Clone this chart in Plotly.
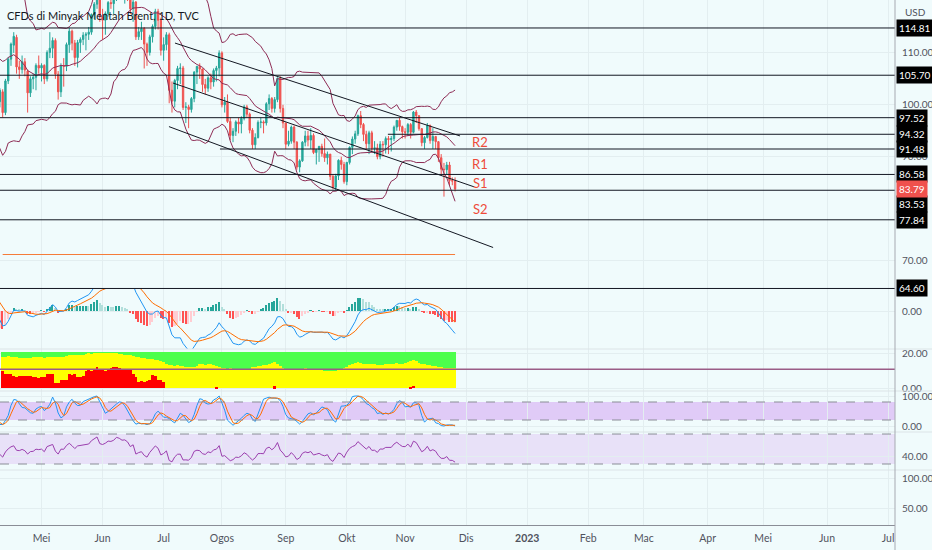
import pandas as pd
import plotly.graph_objects as go

# ---------------------------------------------------------------------------
# Data: TVC Brent CFD, daily bars (the first weeks are only indicator warm-up)
# ---------------------------------------------------------------------------
dates = pd.bdate_range("2022-02-14", "2022-11-25").drop(pd.Timestamp("2022-04-15"))

opens = [
    94.4, 96.5, 93.3, 94.8, 93.0,
    93.5, 95.4, 96.8, 96.8, 99.1,
    97.9, 101.0, 105.0, 112.9, 110.5,
    118.1, 123.2, 128.0, 111.1, 109.3,
    112.0, 106.5, 100.0, 98.5, 106.5,
    108.0, 115.5, 115.8, 121.0, 119.0,
    120.0, 112.0, 110.0, 113.0, 104.7,
    104.4, 107.5, 106.6, 101.0, 100.6,
    102.5, 98.5, 104.6, 108.8,
    111.5, 113.0, 107.3, 106.8, 108.3,
    106.5, 102.3, 105.0, 105.3, 107.6,
    107.1, 107.6, 105.0, 110.1, 110.9,
    112.4, 105.9, 102.5, 107.5, 107.4,
    111.6, 114.2, 111.9, 109.1, 112.0,
    112.6, 113.4, 113.6, 114.0, 117.4,
    119.4, 121.5, 117.0, 116.3, 117.6,
    119.7, 119.5, 120.6, 123.6, 123.1,
    122.0, 122.3, 121.2, 118.5, 119.8,
    113.1, 114.1, 114.7, 111.7, 110.1,
    113.1, 115.1, 118.0, 116.3, 110.5,
    111.6, 113.5, 102.8, 100.7, 104.7,
    107.0, 107.1, 99.5, 99.6, 99.1,
    101.2, 106.3, 107.4, 106.9, 103.9,
    103.2, 105.2, 104.4, 106.6, 107.1,
    110.0, 100.0, 100.5, 96.8, 94.1,
    94.9, 96.7, 96.3, 97.4, 99.6,
    98.2, 95.1, 92.3, 93.7, 96.6,
    96.7, 96.5, 100.2, 101.2, 99.3,
    101.0, 105.1, 99.3, 96.5, 92.4,
    93.0, 95.7, 92.8, 88.0, 89.2,
    92.8, 94.0, 93.2, 94.1, 90.8,
    91.4, 92.0, 90.6, 89.8, 90.5,
    86.2, 84.1, 86.3, 89.3, 88.5,
    85.2, 88.9, 91.8, 93.4, 94.4,
    97.9, 96.2, 94.3, 92.5, 94.6,
    91.6, 91.7, 90.0, 92.4, 92.3,
    93.5, 93.3, 93.5, 95.7, 97.0,
    95.8, 94.8, 94.7, 96.2, 94.7,
    98.6, 97.9, 95.4, 92.7, 93.7,
    96.0, 93.1, 93.9, 92.9, 89.8,
    87.6, 87.5, 88.4, 85.4, 85.3,
]
highs = [
    96.8, 96.6, 95.0, 95.2, 94.0,
    96.0, 99.5, 97.5, 105.8, 100.0,
    101.5, 107.0, 113.0, 119.8, 119.0,
    130.0, 131.0, 129.5, 117.0, 113.5,
    112.9, 107.5, 102.0, 107.8, 108.6,
    115.9, 118.0, 122.5, 122.0, 121.5,
    120.5, 113.5, 114.0, 113.5, 106.5,
    108.6, 108.8, 107.0, 102.7, 103.2,
    103.0, 105.0, 109.2, 112.0,
    114.0, 113.5, 108.5, 109.5, 109.0,
    106.8, 105.5, 106.0, 108.0, 109.5,
    108.0, 107.8, 110.5, 114.0, 113.0,
    112.8, 106.5, 108.0, 109.0, 112.0,
    114.9, 114.5, 112.5, 112.5, 113.0,
    114.0, 114.0, 115.0, 117.6, 119.8,
    122.0, 123.5, 118.5, 118.0, 120.0,
    121.9, 121.0, 124.0, 124.0, 124.0,
    123.0, 124.5, 122.0, 120.5, 120.0,
    115.0, 116.0, 115.0, 112.0, 113.5,
    115.5, 118.5, 118.5, 116.8, 113.0,
    114.0, 113.9, 104.5, 105.0, 107.5,
    108.0, 107.5, 100.5, 100.0, 101.5,
    106.5, 107.5, 108.0, 107.0, 105.0,
    105.5, 106.0, 107.0, 107.5, 110.5,
    110.3, 101.5, 102.0, 97.5, 95.5,
    97.0, 97.5, 97.8, 100.0, 100.0,
    98.5, 95.5, 94.5, 97.0, 97.5,
    97.0, 100.5, 102.0, 101.5, 101.5,
    105.3, 105.5, 100.0, 96.5, 95.0,
    96.0, 96.0, 93.0, 89.5, 93.0,
    95.0, 95.0, 95.5, 94.5, 91.5,
    92.0, 92.5, 93.5, 91.0, 90.5,
    86.5, 86.7, 89.5, 90.0, 89.0,
    89.0, 92.0, 93.9, 95.0, 98.1,
    98.8, 96.5, 95.0, 95.0, 95.0,
    93.0, 92.5, 93.0, 93.0, 93.9,
    94.0, 94.0, 96.0, 97.0, 97.5,
    96.0, 95.5, 96.5, 96.5, 98.8,
    99.0, 98.0, 95.5, 94.0, 96.5,
    96.2, 95.5, 94.0, 93.0, 90.5,
    88.8, 89.0, 89.0, 86.0, 86.0,
]
lows = [
    93.8, 92.1, 92.5, 92.0, 91.5,
    93.0, 94.5, 95.5, 96.5, 96.0,
    97.0, 100.5, 104.5, 109.5, 110.0,
    117.5, 122.0, 108.5, 106.0, 107.5,
    105.0, 97.4, 96.9, 97.5, 104.0,
    106.9, 113.0, 115.0, 116.0, 116.5,
    110.5, 104.6, 109.0, 104.0, 102.5,
    103.0, 104.5, 100.2, 98.6, 99.5,
    97.6, 98.0, 104.0, 107.5,
    110.0, 106.0, 105.0, 106.0, 105.5,
    98.5, 101.5, 103.0, 102.8, 106.0,
    104.5, 104.0, 104.5, 109.0, 109.0,
    105.0, 101.0, 101.5, 103.5, 106.5,
    110.0, 110.5, 107.5, 107.2, 110.0,
    111.5, 110.5, 112.5, 113.5, 116.5,
    118.5, 116.0, 112.5, 113.5, 117.0,
    118.5, 117.5, 120.0, 121.0, 120.5,
    119.5, 120.0, 117.5, 116.0, 112.5,
    112.5, 112.5, 107.0, 107.5, 109.5,
    112.0, 114.5, 114.5, 109.5, 108.5,
    110.5, 100.3, 98.5, 99.5, 103.0,
    104.0, 99.0, 96.5, 95.5, 98.5,
    100.5, 104.0, 105.0, 102.5, 102.0,
    102.5, 103.0, 103.5, 104.5, 105.5,
    99.5, 98.5, 96.5, 93.2, 92.8,
    94.0, 94.5, 94.5, 97.0, 97.5,
    94.5, 91.5, 91.5, 93.5, 95.5,
    94.5, 96.0, 99.0, 98.5, 98.5,
    100.5, 98.5, 95.5, 91.5, 92.0,
    92.5, 91.5, 87.5, 87.0, 89.0,
    92.0, 92.0, 91.5, 90.5, 88.5,
    89.0, 90.0, 89.0, 88.5, 85.5,
    83.7, 83.5, 85.5, 87.5, 84.8,
    84.5, 88.5, 90.5, 92.5, 94.0,
    95.5, 93.0, 91.5, 90.5, 91.0,
    90.5, 89.5, 89.5, 90.0, 90.6,
    90.5, 91.0, 93.0, 95.0, 95.0,
    93.5, 93.5, 94.0, 93.5, 94.5,
    96.5, 95.0, 92.0, 91.5, 93.5,
    92.5, 91.5, 91.5, 89.0, 86.5,
    82.3, 86.5, 84.5, 84.5, 83.3,
]
closes = [
    96.5, 93.3, 94.8, 93.0, 93.5,
    95.4, 96.8, 96.8, 99.1, 97.9,
    101.0, 105.0, 112.9, 110.5, 118.1,
    123.2, 128.0, 111.1, 109.3, 112.7,
    106.9, 99.9, 98.0, 106.6, 107.9,
    115.6, 115.5, 121.6, 119.0, 120.7,
    112.5, 110.2, 113.5, 104.7, 104.4,
    107.5, 106.6, 101.1, 100.6, 102.8,
    98.5, 104.6, 108.8, 111.7,
    113.2, 107.3, 106.8, 108.3, 106.7,
    102.3, 105.0, 105.3, 107.6, 107.1,
    107.6, 105.0, 110.1, 110.9, 112.4,
    105.9, 102.5, 107.5, 107.4, 111.6,
    114.2, 111.9, 109.1, 112.0, 112.6,
    113.4, 113.6, 114.0, 117.4, 119.4,
    121.7, 117.0, 116.3, 117.6, 119.7,
    119.5, 120.6, 123.6, 123.1, 122.0,
    122.3, 121.2, 118.5, 119.8, 113.1,
    114.1, 114.7, 111.7, 110.1, 113.1,
    115.1, 118.0, 116.3, 110.5, 111.6,
    113.5, 102.8, 100.7, 104.7, 107.0,
    107.1, 99.5, 99.6, 99.1, 101.2,
    106.3, 107.4, 106.9, 103.9, 103.2,
    105.2, 104.4, 106.6, 107.1, 110.0,
    100.0, 100.5, 96.8, 94.1, 94.9,
    96.7, 96.3, 97.4, 99.6, 98.2,
    95.1, 92.3, 93.7, 96.6, 96.7,
    96.5, 100.2, 101.2, 99.3, 101.0,
    105.1, 99.3, 96.5, 92.4, 93.0,
    95.7, 92.8, 88.0, 89.2, 92.8,
    94.0, 93.2, 94.1, 90.8, 91.4,
    92.0, 90.6, 89.8, 90.5, 86.2,
    84.1, 86.3, 89.3, 88.5, 85.2,
    88.9, 91.8, 93.4, 94.4, 97.9,
    96.2, 94.3, 92.5, 94.6, 91.6,
    91.7, 90.0, 92.4, 92.3, 93.5,
    93.3, 93.5, 95.7, 97.0, 95.8,
    94.8, 94.7, 96.2, 94.7, 98.6,
    97.9, 95.4, 92.7, 93.7, 96.0,
    93.1, 93.9, 92.9, 89.8, 87.6,
    87.5, 88.4, 85.4, 85.3, 83.79,
]

# stacked "flow" pane (Apr 11 -> Nov 25): top of yellow layer and top of red layer
flow_total = 20.5
flow_yellow = [
    17.6, 18.0, 18.2, 18.0,
    18.0, 17.5, 17.0, 17.0, 17.2,
    17.0, 17.2, 17.5, 17.8, 17.5,
    17.6, 17.4, 17.8, 18.0, 17.9,
    17.9, 18.0, 17.8, 18.0, 18.2,
    18.8, 18.8, 19.0, 18.6, 18.8,
    19.0, 19.4, 19.8, 19.6, 19.8,
    20.2, 20.2, 20.1, 20.3, 20.0,
    20.2, 20.3, 20.0, 19.6, 19.2,
    19.0, 18.9, 18.8, 18.5, 17.8,
    17.5, 17.4, 17.0, 16.8, 16.5,
    16.4, 16.2, 15.8, 15.4, 15.0,
    13.5, 13.0, 13.2, 12.8, 13.0,
    12.8, 12.5, 12.0, 11.8, 12.0,
    12.0, 12.8, 13.5, 13.8, 13.2,
    13.5, 13.8, 13.0, 12.5, 12.0,
    11.5, 11.2, 11.0, 11.2, 11.0,
    10.8, 10.6, 10.7, 10.8, 11.0,
    11.0, 11.8, 12.2, 12.5, 12.8,
    13.0, 13.2, 13.8, 14.5, 15.0,
    14.0, 12.5, 11.5, 11.0, 10.8,
    10.8, 10.6, 10.5, 10.8, 11.0,
    11.2, 11.0, 10.8, 10.6, 10.5,
    10.5, 10.2, 10.0, 10.0, 9.8,
    9.8, 10.0, 10.4, 10.8, 11.2,
    12.0, 13.0, 13.8, 14.5, 14.8,
    14.2, 14.0, 13.8, 13.5, 13.6,
    13.5, 13.4, 13.2, 13.3, 13.5,
    13.5, 13.6, 14.0, 14.2, 14.0,
    14.0, 14.2, 14.8, 15.2, 15.8,
    15.2, 14.5, 13.8, 13.5, 13.2,
    13.0, 12.8, 12.5, 12.0, 11.8,
    11.6, 11.5, 11.4, 11.3, 11.2,
]
flow_red = [
    9.8, 8.0, 7.8, 7.8,
    6.6, 6.5, 6.9, 6.9, 7.0,
    6.9, 6.8, 6.2, 6.1, 6.0,
    6.1, 6.3, 8.0, 8.0, 7.8,
    2.8, 3.0, 4.5, 4.6, 4.6,
    7.8, 7.6, 7.8, 6.5, 6.5,
    6.6, 9.5, 10.3, 10.0, 10.5,
    11.8, 10.5, 10.3, 10.0, 10.3,
    11.5, 11.8, 12.0, 11.6, 11.0,
    10.4, 10.2, 10.3, 8.0, 6.5,
    3.6, 3.8, 3.5, 4.0, 4.6,
    7.4, 7.0, 4.6, 4.4, 3.6,
    0, 0, 0, 0, 0,
    0, 0, 0, 0, 0,
    0, 0, 0, 0, 0,
    0, 0, 0, 0.6, 0,
    0, 0, 0, 0, 0,
    0, 0, 0, 0, 0,
    0, 0, 0, 0, 0,
    0, 0, 0, 0, 1.0,
    0, 0, 0, 0, 0,
    0, 0, 0, 0, 0,
    0, 0, 0, 0, 0,
    0, 0, 0, 0, 0,
    0, 0, 0, 0, 0,
    0, 0, 0, 0, 0,
    0, 0, 0, 0, 0,
    0, 0, 0, 0, 0,
    0, 0, 0, 0, 0,
    0, 0, 0, 0.8, 1.2,
    0, 0, 0, 0, 0,
    0, 0, 0, 0, 0,
    0, 0, 0, 0, 0,
]
flow_level = 10.7

# drawn horizontal levels (price, and where the line starts if not at the left edge)
levels = [114.81, 105.70, 97.52, 94.32, 91.48, 86.58, 83.53, 77.84, 64.60]
level_start = {114.81: "2022-04-13 05:00", 94.32: "2022-10-21 19:00", 91.48: "2022-07-29 07:00"}
orange_level = 71.15

# descending channel drawn by hand
channel = [
    (("2022-07-07 02:00", 111.9), ("2022-11-28 19:00", 94.0)),
    (("2022-07-06 09:00", 104.2), ("2022-12-05 19:00", 84.2)),
    (("2022-07-04 22:00", 95.8), ("2022-12-14 17:00", 72.5)),
]
pivot_names = ["R2", "R1", "S1", "S2"]
pivot_prices = [92.9, 88.5, 84.9, 79.9]
pivot_date = "2022-12-08"

month_ticks = ["2022-05-02", "2022-06-01", "2022-07-01", "2022-08-01", "2022-09-01",
               "2022-10-03", "2022-11-01", "2022-12-01", "2023-01-02", "2023-02-01",
               "2023-03-01", "2023-04-03", "2023-05-01", "2023-06-01", "2023-07-03"]
month_labels = ["Mei", "Jun", "Jul", "Ogos", "Sep", "Okt", "Nov", "Dis", "<b>2023</b>",
                "Feb", "Mac", "Apr", "Mei", "Jun", "Jul"]

# ---------------------------------------------------------------------------
# Studies on the closes (BB 20/2.5, MACD 12/26/9, RSI 14, Stoch RSI 14/14/3/3)
# ---------------------------------------------------------------------------
close = pd.Series(closes, index=dates)
basis = close.rolling(20).mean()
dev = close.rolling(20).std(ddof=0)
bb_up = basis + 2.5 * dev
bb_lo = basis - 2.5 * dev

macd = close.ewm(span=12, adjust=False).mean() - close.ewm(span=26, adjust=False).mean()
signal = macd.ewm(span=9, adjust=False).mean()
hist = macd - signal
hist_prev = hist.shift(1)
hist_colors = []
for h, p in zip(hist, hist_prev):
    if h >= 0:
        hist_colors.append("#B2DFDB" if p > h else "#26A69A")
    else:
        hist_colors.append("#FFCDD2" if p < h else "#FF5252")

delta = close.diff()
gain = delta.clip(lower=0).ewm(alpha=1 / 14, adjust=False).mean()
loss = (-delta.clip(upper=0)).ewm(alpha=1 / 14, adjust=False).mean()
rsi = 100 - 100 / (1 + gain / loss)
rsi_lo = rsi.rolling(14).min()
rsi_hi = rsi.rolling(14).max()
stoch_k = (100 * (rsi - rsi_lo) / (rsi_hi - rsi_lo)).rolling(3).mean()
stoch_d = stoch_k.rolling(3).mean()

flow_dates = dates[dates >= "2022-04-11"]

# ---------------------------------------------------------------------------
# Layout helpers
# ---------------------------------------------------------------------------
W, H = 932, 550
PLOT_H = 525      # px above the time axis
PLOT_R = 895      # px where the price scale starts
X_END = "2023-07-05 12:00"
BG = "#F0FBFC"
GRID = "#E3EEF0"
AXIS_TXT = "#50535E"
FONT = "Lato, Roboto, sans-serif"
BB_COL = "#8E2C55"


def dom(top_px, bottom_px):
    return [1 - bottom_px / PLOT_H, 1 - top_px / PLOT_H]


fig = go.Figure()

# price pane
for band in (bb_up, basis, bb_lo):
    fig.add_trace(go.Scatter(x=dates, y=band, mode="lines", line=dict(color=BB_COL, width=1),
                             yaxis="y", hoverinfo="skip"))
fig.add_trace(go.Candlestick(
    x=dates, open=opens, high=highs, low=lows, close=closes, yaxis="y",
    increasing=dict(line=dict(color="#26A69A", width=1), fillcolor="#26A69A"),
    decreasing=dict(line=dict(color="#EF5350", width=1), fillcolor="#EF5350"),
    whiskerwidth=0,
))

# MACD pane
fig.add_trace(go.Bar(x=dates, y=hist, marker=dict(color=hist_colors, line=dict(width=0)),
                     width=0.55 * 86400000, yaxis="y2"))
fig.add_trace(go.Scatter(x=dates, y=macd, mode="lines", line=dict(color="#2196F3", width=1),
                         yaxis="y2"))
fig.add_trace(go.Scatter(x=dates, y=signal, mode="lines", line=dict(color="#FF6D00", width=1),
                         yaxis="y2"))

# stacked flow pane
fig.add_trace(go.Bar(x=flow_dates, y=[flow_total] * len(flow_dates), width=86400000,
                     marker=dict(color="#4CFF4C", line=dict(width=0)), yaxis="y3"))
fig.add_trace(go.Bar(x=flow_dates, y=flow_yellow, width=86400000,
                     marker=dict(color="#FFFF00", line=dict(width=0)), yaxis="y3"))
fig.add_trace(go.Bar(x=flow_dates, y=flow_red, width=86400000,
                     marker=dict(color="#FF0000", line=dict(width=0)), yaxis="y3"))

# stoch RSI pane
fig.add_trace(go.Scatter(x=dates, y=stoch_k, mode="lines", line=dict(color="#2196F3", width=1),
                         yaxis="y4"))
fig.add_trace(go.Scatter(x=dates, y=stoch_d, mode="lines", line=dict(color="#FF6D00", width=1),
                         yaxis="y4"))

# RSI pane
fig.add_trace(go.Scatter(x=dates, y=rsi, mode="lines", line=dict(color="#9B3FAE", width=1),
                         yaxis="y5"))

# empty bottom pane (keeps its own subplot so the time axis can sit under it)
fig.add_trace(go.Scatter(x=[dates[-1]], y=[None], mode="lines", yaxis="y6", hoverinfo="skip"))

shapes = []
for lv in levels:
    if lv in level_start:
        shapes.append(dict(type="line", xref="x", yref="y", x0=level_start[lv], x1=X_END,
                           y0=lv, y1=lv, line=dict(color="#131722", width=1)))
    else:
        shapes.append(dict(type="line", xref="paper", yref="y", x0=0, x1=PLOT_R / W,
                           y0=lv, y1=lv, line=dict(color="#131722", width=1)))
shapes.append(dict(type="line", xref="x", yref="y", x0=flow_dates[0], x1=flow_dates[-1],
                   y0=orange_level, y1=orange_level, line=dict(color="#F57C3A", width=1)))
for (xa, ya), (xb, yb) in channel:
    shapes.append(dict(type="line", xref="x", yref="y", x0=xa, y0=ya, x1=xb, y1=yb,
                       line=dict(color="#131722", width=1)))

shapes.append(dict(type="line", xref="paper", yref="y3", x0=0, x1=PLOT_R / W,
                   y0=flow_level, y1=flow_level, line=dict(color="#9A5C86", width=1.5)))
# stoch band and RSI band
shapes.append(dict(type="rect", xref="paper", yref="y4", x0=0, x1=PLOT_R / W, y0=20, y1=80,
                   fillcolor="#E0CBF7", line=dict(width=0), layer="below"))
shapes.append(dict(type="rect", xref="paper", yref="y5", x0=0, x1=PLOT_R / W, y0=30, y1=70,
                   fillcolor="#E8E1F8", line=dict(width=0), layer="below"))
for ax, v in [("y4", 20), ("y4", 80), ("y5", 30), ("y5", 70)]:
    shapes.append(dict(type="line", xref="paper", yref=ax, x0=0, x1=PLOT_R / W, y0=v, y1=v,
                       line=dict(color="#8A8D96", width=1, dash="dash")))
# pane separators and price-scale border
for ypx in [349, 391, 432, 470]:
    shapes.append(dict(type="line", xref="paper", yref="paper", x0=0, x1=1,
                       y0=1 - ypx / PLOT_H, y1=1 - ypx / PLOT_H, line=dict(color="#DCE4E7", width=1)))
shapes.append(dict(type="line", xref="paper", yref="paper", x0=PLOT_R / W, x1=PLOT_R / W,
                   y0=-(H - PLOT_H) / PLOT_H, y1=1, line=dict(color="#A6A9B1", width=1)))

annotations = [
    dict(text="CFDs di Minyak Mentah Brent, 1D, TVC", xref="paper", yref="paper",
         x=5 / W, y=1 - 15 / PLOT_H, xanchor="left", yanchor="middle", showarrow=False,
         font=dict(size=11, color="#131722", family=FONT)),
    dict(text="USD", xref="paper", yref="paper", x=903 / W, y=1 - 12 / PLOT_H,
         xanchor="left", yanchor="middle", showarrow=False,
         font=dict(size=10, color=AXIS_TXT, family=FONT)),
]
for name, pv in zip(pivot_names, pivot_prices):
    annotations.append(dict(text=name, xref="x", yref="y", x=pivot_date, y=pv, showarrow=False,
                            xanchor="center", yanchor="middle",
                            font=dict(size=13, color="#EE4B3A", family=FONT)))
for lv in levels:
    annotations.append(dict(text=f"{lv:.2f}", xref="paper", yref="y", x=PLOT_R / W, y=lv,
                            xanchor="left", yanchor="middle", xshift=1,
                            yshift=-14 if lv == 83.53 else 0, showarrow=False,
                            bgcolor="#000000", borderpad=2,
                            font=dict(size=10, color="#FFFFFF", family=FONT)))
annotations.append(dict(text=f"{closes[-1]:.2f}", xref="paper", yref="y", x=PLOT_R / W, y=closes[-1],
                        xanchor="left", yanchor="middle", xshift=1, showarrow=False,
                        bgcolor="#F0514D", borderpad=2,
                        font=dict(size=10, color="#FFFFFF", family=FONT)))

yax = dict(side="right", anchor="x", showgrid=True, gridcolor=GRID, zeroline=False,
           tickformat=".2f", ticks="", ticklabelstandoff=6,
           tickfont=dict(size=10, color=AXIS_TXT, family=FONT), showline=False)

fig.update_layout(
    width=W, height=H,
    margin=dict(l=0, r=0, t=0, b=H - PLOT_H, autoexpand=False),
    paper_bgcolor=BG, plot_bgcolor=BG,
    showlegend=False, barmode="overlay", bargap=0,
    xaxis=dict(domain=[0, PLOT_R / W], anchor="y6", type="date",
               range=["2022-04-08 01:00", X_END],
               rangebreaks=[dict(bounds=["sat", "mon"]), dict(values=["2022-04-15"])],
               tickvals=month_ticks, ticktext=month_labels,
               showgrid=True, gridcolor=GRID, showline=True, linecolor="#8A8D96",
               ticks="", ticklabelstandoff=3, rangeslider=dict(visible=False),
               tickfont=dict(size=10.5, color=AXIS_TXT, family=FONT)),
    yaxis=dict(yax, domain=dom(0, 289), range=[64.5, 120.2], tickvals=[70, 90, 100, 110]),
    yaxis2=dict(yax, domain=dom(289, 349), range=[-3.8, 2.2], tickvals=[0]),
    yaxis3=dict(yax, domain=dom(349, 391), range=[-1.7, 22.3], tickvals=[0, 20]),
    yaxis4=dict(yax, domain=dom(391, 432), range=[-20, 116.7], tickvals=[0, 100]),
    yaxis5=dict(yax, domain=dom(432, 470), range=[22, 72.7], tickvals=[40]),
    yaxis6=dict(yax, domain=dom(470, PLOT_H), range=[20.7, 115.5], tickvals=[50, 100]),
    shapes=shapes,
    annotations=annotations,
)

# page body margin off so the 932x550 figure fills the window exactly
fig.write_html("out.html", config={"displayModeBar": False},
               post_script="document.body.style.margin='0px';")
